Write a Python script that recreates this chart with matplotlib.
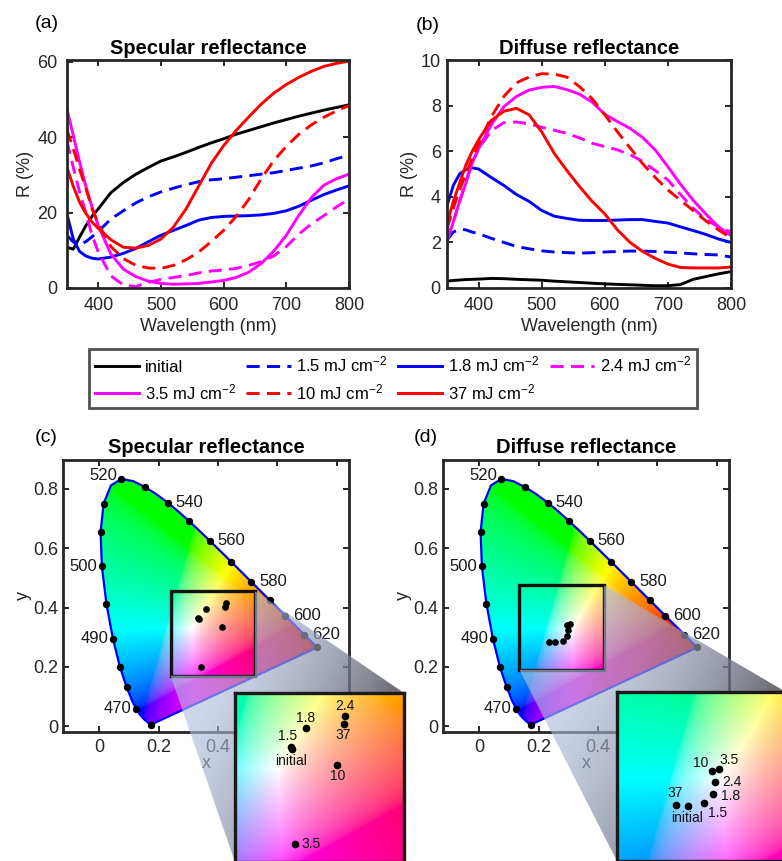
import numpy as np
import matplotlib
matplotlib.use('Agg')
import matplotlib.pyplot as plt
from matplotlib.patches import Polygon, Rectangle
from matplotlib.ticker import FuncFormatter

plt.rcParams['font.family'] = ['Liberation Sans', 'DejaVu Sans']
plt.rcParams['mathtext.fontset'] = 'custom'
plt.rcParams['mathtext.rm'] = 'Liberation Sans'
plt.rcParams['mathtext.it'] = 'Liberation Sans:italic'
plt.rcParams['mathtext.bf'] = 'Liberation Sans:bold'

# ---------------- data ----------------
wavelength = [350, 360, 370, 380, 390, 400, 420, 440, 460, 480, 500, 520, 540,
              560, 580, 600, 620, 640, 660, 680, 700, 720, 740, 760, 780, 800]

spec_initial = [10.8, 10.3, 13.5, 16.5, 19.0, 21.0, 25.3, 28.0, 30.2, 32.0, 33.7, 34.8, 36.0,
                37.3, 38.5, 39.6, 40.8, 41.8, 42.8, 43.8, 44.7, 45.6, 46.4, 47.2, 47.9, 48.6]
spec_1p5 = [14.0, 12.2, 11.5, 12.3, 13.6, 15.0, 18.3, 20.5, 22.6, 24.2, 25.5, 26.5, 27.4,
            28.2, 28.7, 29.0, 29.4, 29.8, 30.2, 30.6, 31.2, 31.8, 32.4, 33.2, 34.3, 35.2]
spec_1p8 = [19.6, 13.0, 9.7, 8.5, 7.9, 7.7, 8.2, 9.2, 10.5, 12.3, 14.0, 15.3, 16.6,
            18.0, 18.7, 19.0, 19.1, 19.2, 19.4, 19.8, 20.5, 21.7, 23.3, 24.8, 26.0, 27.1]
spec_2p4 = [39.0, 32.0, 25.5, 20.0, 14.0, 9.5, 3.2, 0.8, 0.4, 1.5, 2.3, 2.8, 3.3,
            4.0, 4.5, 4.8, 5.2, 6.0, 7.0, 8.5, 11.0, 14.3, 17.0, 19.2, 21.5, 23.6]
spec_3p5 = [47.5, 40.5, 33.5, 27.0, 21.5, 16.5, 9.0, 5.0, 3.0, 1.8, 1.2, 1.0, 1.1,
            1.2, 1.6, 2.0, 2.8, 4.2, 6.5, 9.8, 14.0, 19.3, 24.0, 27.3, 29.0, 30.2]
spec_10 = [42.0, 37.0, 31.5, 26.5, 21.0, 17.0, 11.0, 7.8, 6.0, 5.3, 5.2, 6.0, 7.5,
           9.5, 12.3, 15.3, 19.0, 23.5, 29.0, 33.8, 37.6, 40.8, 43.3, 45.3, 47.0, 48.4]
spec_37 = [32.0, 27.0, 22.8, 19.8, 17.5, 15.8, 12.8, 10.8, 10.6, 11.3, 13.0, 16.2, 21.0,
           27.0, 33.0, 37.8, 41.8, 45.4, 48.8, 51.7, 54.0, 55.9, 57.5, 58.8, 59.6, 60.2]

diff_initial = [0.30, 0.33, 0.35, 0.37, 0.38, 0.39, 0.42, 0.41, 0.38, 0.36, 0.34, 0.30, 0.27,
                0.24, 0.21, 0.18, 0.16, 0.14, 0.12, 0.10, 0.10, 0.15, 0.38, 0.50, 0.62, 0.72]
diff_1p5 = [2.10, 2.45, 2.58, 2.55, 2.45, 2.38, 2.18, 2.00, 1.82, 1.72, 1.63, 1.58, 1.55,
            1.53, 1.55, 1.58, 1.60, 1.62, 1.62, 1.60, 1.57, 1.54, 1.50, 1.47, 1.45, 1.36]
diff_1p8 = [3.60, 4.50, 5.00, 5.20, 5.27, 5.22, 4.85, 4.50, 4.10, 3.80, 3.40, 3.15, 3.05,
            2.97, 2.96, 2.96, 2.98, 3.00, 3.00, 2.92, 2.85, 2.68, 2.52, 2.35, 2.15, 2.00]
diff_2p4 = [2.10, 2.90, 3.80, 4.70, 5.50, 6.10, 6.90, 7.25, 7.28, 7.20, 7.05, 6.92, 6.78,
            6.58, 6.35, 6.20, 6.06, 5.85, 5.55, 5.15, 4.74, 4.10, 3.50, 3.00, 2.69, 2.45]
diff_3p5 = [2.05, 2.90, 3.80, 4.60, 5.50, 6.10, 7.15, 7.95, 8.40, 8.68, 8.80, 8.84, 8.70,
            8.50, 8.15, 7.62, 7.30, 7.00, 6.60, 6.05, 5.32, 4.55, 3.85, 3.25, 2.69, 2.30]
diff_10 = [2.60, 3.50, 4.30, 5.00, 5.70, 6.30, 7.50, 8.40, 9.00, 9.25, 9.40, 9.38, 9.25,
           8.83, 8.30, 7.60, 6.85, 6.15, 5.45, 4.85, 4.30, 3.85, 3.40, 2.95, 2.55, 2.20]
diff_37 = [2.80, 3.80, 4.60, 5.40, 6.00, 6.50, 7.35, 7.75, 7.88, 7.60, 6.85, 5.90, 5.15,
           4.45, 3.80, 3.25, 2.55, 2.00, 1.60, 1.30, 1.05, 0.90, 0.88, 0.88, 0.88, 0.92]

series_labels = ['initial', '1.5 mJ cm$^{-2}$', '1.8 mJ cm$^{-2}$', '2.4 mJ cm$^{-2}$',
                 '3.5 mJ cm$^{-2}$', '10 mJ cm$^{-2}$', '37 mJ cm$^{-2}$']
series_colors = ['#000000', '#0000ff', '#0000ff', '#ff00ff', '#ff00ff', '#ff0000', '#ff0000']
series_dashed = [False, True, False, True, False, True, False]
spec_series = [spec_initial, spec_1p5, spec_1p8, spec_2p4, spec_3p5, spec_10, spec_37]
diff_series = [diff_initial, diff_1p5, diff_1p8, diff_2p4, diff_3p5, diff_10, diff_37]

# CIE 1931 chromaticity points of the samples
point_labels = ['initial', '1.5', '1.8', '2.4', '3.5', '10', '37']
spec_cx = [0.336, 0.334, 0.359, 0.426, 0.341, 0.412, 0.423]
spec_cy = [0.360, 0.364, 0.396, 0.416, 0.200, 0.334, 0.402]
diff_cx = [0.254, 0.281, 0.297, 0.300, 0.307, 0.295, 0.234]
diff_cy = [0.283, 0.287, 0.303, 0.324, 0.345, 0.341, 0.284]

spec_zoom_x = [0.24, 0.525]
spec_zoom_y = [0.17, 0.455]
diff_zoom_x = [0.135, 0.42]
diff_zoom_y = [0.19, 0.475]

cie_ticks = [0, 0.2, 0.4, 0.6, 0.8]
cie_xticklabels = ['0', '0.2', '0.4', '', '']   # 0.6 and 0.8 lie under the inset
cie_yticklabels = ['0', '0.2', '0.4', '0.6', '0.8']

# CIE 1931 2-degree spectral locus
locus_nm = [380, 385, 390, 395, 400, 405, 410, 415, 420, 425, 430, 435, 440, 445, 450, 455,
            460, 465, 470, 475, 480, 485, 490, 495, 500, 505, 510, 515, 520, 525, 530, 535,
            540, 545, 550, 555, 560, 565, 570, 575, 580, 585, 590, 595, 600, 605, 610, 615,
            620, 625, 630, 635, 640, 645, 650, 660, 670, 680, 690, 700]
locus_x = [0.1741, 0.1740, 0.1738, 0.1736, 0.1733, 0.1730, 0.1726, 0.1721, 0.1714, 0.1703,
           0.1689, 0.1669, 0.1644, 0.1611, 0.1566, 0.1510, 0.1440, 0.1355, 0.1241, 0.1096,
           0.0913, 0.0687, 0.0454, 0.0235, 0.0082, 0.0039, 0.0139, 0.0389, 0.0743, 0.1142,
           0.1547, 0.1929, 0.2296, 0.2658, 0.3016, 0.3373, 0.3731, 0.4087, 0.4441, 0.4788,
           0.5125, 0.5448, 0.5752, 0.6029, 0.6270, 0.6482, 0.6658, 0.6801, 0.6915, 0.7006,
           0.7079, 0.7140, 0.7190, 0.7230, 0.7260, 0.7300, 0.7320, 0.7334, 0.7344, 0.7347]
locus_y = [0.0050, 0.0050, 0.0049, 0.0049, 0.0048, 0.0048, 0.0048, 0.0048, 0.0051, 0.0058,
           0.0069, 0.0086, 0.0109, 0.0138, 0.0177, 0.0227, 0.0297, 0.0399, 0.0578, 0.0868,
           0.1327, 0.2007, 0.2950, 0.4127, 0.5384, 0.6548, 0.7502, 0.8120, 0.8338, 0.8262,
           0.8059, 0.7816, 0.7543, 0.7243, 0.6923, 0.6589, 0.6245, 0.5896, 0.5547, 0.5202,
           0.4866, 0.4544, 0.4242, 0.3965, 0.3725, 0.3514, 0.3340, 0.3197, 0.3083, 0.2993,
           0.2920, 0.2859, 0.2809, 0.2770, 0.2740, 0.2700, 0.2680, 0.2666, 0.2656, 0.2653]
marked_nm = [380, 470, 480, 485, 490, 495, 500, 505, 510, 520, 530, 540, 550, 560, 570,
             580, 590, 600, 620, 700]
left_label_nm = [470, 490, 500, 520]
right_label_nm = [540, 560, 580, 600, 620]

# ---------------- figure ----------------
W, H = 782, 861
fig = plt.figure(figsize=(W / 100, H / 100), dpi=100)
AX_COLOR = '#262626'


def fpos(l, t, r, b):
    return [l / W, (H - b) / H, (r - l) / W, (b - t) / H]


def style(ax, ylpad):
    for s in ax.spines.values():
        s.set_linewidth(2.0)
        s.set_color(AX_COLOR)
    ax.tick_params(direction='in', length=4, width=1.4, top=True, right=True,
                   colors=AX_COLOR, labelsize=13, labelcolor=AX_COLOR)
    ax.tick_params(axis='y', pad=ylpad)


# ---- top panels ----
ax_a = fig.add_axes(fpos(67, 60, 349, 288))
ax_b = fig.add_axes(fpos(447, 60, 731, 288))
lines_a = []
for ax, data in ((ax_a, spec_series), (ax_b, diff_series)):
    for vals, col, dsh, lab in zip(data, series_colors, series_dashed, series_labels):
        ln, = ax.plot(wavelength, vals, color=col, lw=2.1, label=lab)
        if dsh:
            ln.set_dashes((4.5, 2.5))
        if ax is ax_a:
            lines_a.append(ln)
    ax.set_xlim(350, 800)
    ax.set_xticks([400, 500, 600, 700, 800])
    ax.set_xlabel('Wavelength (nm)', fontsize=13, color=AX_COLOR, labelpad=3)
    ax.set_ylabel('R (%)', fontsize=13, color=AX_COLOR, labelpad=2)

ax_a.set_ylim(0, 60.5)
ax_a.set_yticks([0, 20, 40, 60])
ax_b.set_ylim(0, 10)
ax_b.set_yticks([0, 2, 4, 6, 8, 10])
style(ax_a, 7)
style(ax_b, 4.5)
ax_a.tick_params(axis='x', pad=6.5)
ax_b.tick_params(axis='x', pad=6.5)
ax_a.set_title('Specular reflectance', fontsize=14.5, fontweight='bold', pad=4)
ax_b.set_title('Diffuse reflectance', fontsize=14.5, fontweight='bold', pad=4)

fig.text(35 / W, 1 - 24 / H, '(a)', fontsize=14, va='center', ha='left')
fig.text(416 / W, 1 - 25 / H, '(b)', fontsize=14, va='center', ha='left')
fig.text(35 / W, 1 - 437 / H, '(c)', fontsize=14, va='center', ha='left')
fig.text(414 / W, 1 - 437 / H, '(d)', fontsize=14, va='center', ha='left')

# ---- legend ----
order = [0, 4, 1, 5, 2, 6, 3]
leg = fig.legend([lines_a[i] for i in order], [series_labels[i] for i in order],
                 ncol=4, mode='expand', loc='center',
                 bbox_to_anchor=(89 / W, (H - 405) / H, 608 / W, 53 / H),
                 borderaxespad=0, frameon=True, fancybox=False, edgecolor=AX_COLOR,
                 handlelength=2.65, handletextpad=0.35, fontsize=12, labelspacing=0.45,
                 borderpad=0.35, columnspacing=0.5)
leg.get_frame().set_linewidth(2.0)

# ---- chromaticity colours ----
M = np.array([[3.2406, -1.5372, -0.4986],
              [-0.9689, 1.8758, 0.0415],
              [0.0557, -0.2040, 1.0570]])


def chroma_rgb(xx, yy):
    yy = np.maximum(yy, 1e-4)
    XYZ = np.stack([xx / yy, np.ones_like(xx), (1 - xx - yy) / yy], -1)
    rgb = np.clip(XYZ @ M.T, 0, None)
    rgb = rgb / np.maximum(rgb.max(-1, keepdims=True), 1e-9)
    rgb = np.where(rgb <= 0.0031308, 12.92 * rgb, 1.055 * rgb ** (1 / 2.4) - 0.055)
    return np.clip(rgb, 0, 1)


def color_field(x0, x1, y0, y1, n=400):
    gx, gy = np.meshgrid(np.linspace(x0, x1, n), np.linspace(y0, y1, n))
    return chroma_rgb(gx, gy)


lx = np.array(locus_x)
ly = np.array(locus_y)
ax_c = fig.add_axes(fpos(63, 460, 349, 732))
ax_d = fig.add_axes(fpos(443, 460, 729, 732))
insets = []
specs = [
    (ax_c, 'Specular reflectance', spec_cx, spec_cy, spec_zoom_x, spec_zoom_y, (235, 693),
     {'initial': (-0.7, -8.1, 'center'), '1.5': (-2.2, 7.7, 'center'),
      '1.8': (0, 7.5, 'center'), '2.4': (0, 7.2, 'center'), '3.5': (4.5, 0, 'left'),
      '10': (0.3, -7.9, 'center'), '37': (0, -7.7, 'center')}),
    (ax_d, 'Diffuse reflectance', diff_cx, diff_cy, diff_zoom_x, diff_zoom_y, (617, 692),
     {'initial': (-0.4, -8.9, 'center'), '1.5': (10.3, -7.2, 'center'),
      '1.8': (6.0, -1.7, 'left'), '2.4': (5.6, 0, 'left'), '3.5': (7.2, 6.3, 'center'),
      '10': (-7.9, 6.0, 'center'), '37': (-0.7, 8.9, 'center')}),
]
for ax, title, cx, cy, zx, zy, ipos, offs in specs:
    rgb = color_field(0, 0.75, 0, 0.85, 600)
    im = ax.imshow(rgb, extent=[0, 0.75, 0, 0.85], origin='lower', aspect='auto',
                   interpolation='bilinear', zorder=1)
    clip = Polygon(np.column_stack([lx, ly]), closed=True, transform=ax.transData)
    im.set_clip_path(clip)
    ax.plot(np.r_[lx, lx[0]], np.r_[ly, ly[0]], color='#0000ff', lw=1.6, zorder=2)
    idx = [locus_nm.index(w) for w in marked_nm]
    ax.plot(lx[idx], ly[idx], 'o', color='k', ms=4.3, ls='none', zorder=3)
    for w in left_label_nm:
        i = locus_nm.index(w)
        dy = 2.5 if w == 520 else 0
        ax.annotate(str(w), (lx[i], ly[i]), xytext=(-3.2, dy), textcoords='offset points',
                    ha='right', va='center', fontsize=12, color='#1a1a1a')
    for w in right_label_nm:
        i = locus_nm.index(w)
        ax.annotate(str(w), (lx[i], ly[i]), xytext=(5.5, 0), textcoords='offset points',
                    ha='left', va='center', fontsize=12, color='#1a1a1a')
    ax.plot(cx, cy, 'o', color='k', ms=3.8, ls='none', zorder=4)
    ax.add_patch(Rectangle((zx[0], zy[0]), zx[1] - zx[0], zy[1] - zy[0], fill=False,
                           lw=2.4, ec='#111111', zorder=5))
    ax.set_xlim(-0.123, 0.842)
    ax.set_ylim(-0.02, 0.8977)
    ax.set_xticks(cie_ticks)
    ax.set_xticklabels(cie_xticklabels)
    ax.set_yticks(cie_ticks)
    ax.set_yticklabels(cie_yticklabels)
    style(ax, 3.5)
    ax.tick_params(axis='x', pad=5)
    ax.set_xlabel('x', fontsize=13, color=AX_COLOR, labelpad=-1)
    ax.set_ylabel('y', fontsize=13, color=AX_COLOR, labelpad=1)
    ax.set_title(title, fontsize=14.5, fontweight='bold', pad=5)

    # inset
    ins = fig.add_axes(fpos(ipos[0], ipos[1], ipos[0] + 169, ipos[1] + 169))
    ins.set_zorder(6)
    ins.imshow(color_field(zx[0], zx[1], zy[0], zy[1], 300),
               extent=[zx[0], zx[1], zy[0], zy[1]], origin='lower', aspect='auto',
               interpolation='bilinear')
    ins.plot(cx, cy, 'o', color='k', ms=4.5, ls='none')
    for lab, px, py in zip(point_labels, cx, cy):
        ox, oy, ha = offs[lab]
        ins.annotate(lab, (px, py), xytext=(ox, oy), textcoords='offset points',
                     ha=ha, va='center', fontsize=10, color='#111111')
    ins.set_xlim(zx)
    ins.set_ylim(zy)
    ins.set_xticks([])
    ins.set_yticks([])
    for s in ins.spines.values():
        s.set_linewidth(2.4)
        s.set_color('#1a1a1a')
    insets.append(ins)

# ---- projection shading between zoom box and inset ----
ax_ov = fig.add_axes([0, 0, 1, 1])
ax_ov.set_xlim(0, W)
ax_ov.set_ylim(0, H)
ax_ov.axis('off')
ax_ov.set_zorder(5)
ax_ov.patch.set_alpha(0)
GX, GY = np.meshgrid(np.arange(W) + 0.5, np.arange(H) + 0.5)
GYi = H - GY
c0 = np.array([0.70, 0.75, 0.88])
c1 = np.array([0.33, 0.33, 0.36])
for ax, ins, zx, zy in ((ax_c, insets[0], spec_zoom_x, spec_zoom_y),
                        (ax_d, insets[1], diff_zoom_x, diff_zoom_y)):
    r = ax.transData.transform([(zx[0], zy[0]), (zx[1], zy[0]), (zx[1], zy[1]), (zx[0], zy[1])])
    q = ins.transAxes.transform([(0, 0), (1, 0), (1, 1), (0, 1)])
    poly = np.array([r[2], q[2], q[3], q[0], r[0], r[1]])
    rx0, rtop = r[0][0], H - r[2][1]
    ix1, ibot = q[1][0], H - q[0][1]
    u = (GX - rx0) / (ix1 - rx0)
    v = (GYi - rtop) / (ibot - rtop)
    t = 0.65 * u + 0.35 * v
    s = np.clip((t - 0.2) / 0.55, 0, 1) ** 1.4
    rgba = np.zeros((H, W, 4))
    rgba[..., :3] = c0 * (1 - s[..., None]) + c1 * s[..., None]
    rgba[..., 3] = 0.62 * (1 - s) + 0.85 * s
    im = ax_ov.imshow(rgba, extent=(0, W, 0, H), origin='lower', aspect='auto',
                      interpolation='nearest')
    im.set_clip_path(Polygon(poly, closed=True, transform=ax_ov.transData))
ax_ov.set_xlim(0, W)
ax_ov.set_ylim(0, H)

fig.savefig('out.png', dpi=100)
